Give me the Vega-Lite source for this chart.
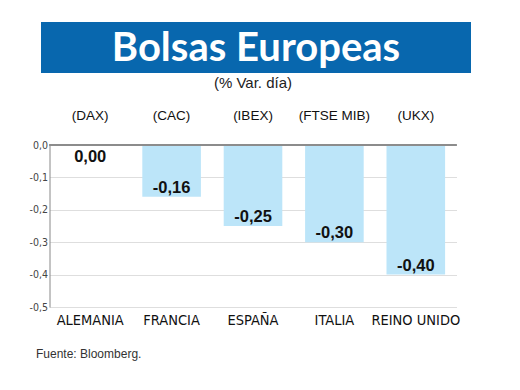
{
  "$schema": "https://vega.github.io/schema/vega-lite/v6.json",
  "background": "white",
  "padding": {"top": 22, "left": 29, "right": 5, "bottom": 5},
  "spacing": 3,
  "bounds": "full",
  "center": true,
  "data": {"values": [
    {"pais": "ALEMANIA", "indice": "(DAX)", "valor": 0.00},
    {"pais": "FRANCIA", "indice": "(CAC)", "valor": -0.16},
    {"pais": "ESPAÑA", "indice": "(IBEX)", "valor": -0.25},
    {"pais": "ITALIA", "indice": "(FTSE MIB)", "valor": -0.30},
    {"pais": "REINO UNIDO", "indice": "(UKX)", "valor": -0.40}
  ]},
  "vconcat": [
    {
      "width": 430,
      "height": 51,
      "view": {"fill": "#0867ae", "stroke": null},
      "data": {"values": [{"t": "Bolsas Europeas"}]},
      "mark": {"type": "text", "font": "Lato", "fontWeight": "bold", "fontSize": 40, "color": "white", "baseline": "middle", "align": "center", "dy": 1},
      "encoding": {"text": {"field": "t"}}
    },
    {
      "width": 407,
      "height": 162,
      "title": {"text": "(% Var. día)", "font": "Liberation Sans", "fontSize": 15, "fontWeight": "normal", "color": "#222", "offset": 17, "anchor": "middle"},
      "transform": [
        {"calculate": "datum.pais + '|' + datum.indice", "as": "clave"},
        {"calculate": "replace(replace(format(datum.valor, '.2f'), '.', ','), '\u2212', '-')", "as": "etiqueta"},
        {"calculate": "datum.valor == 0 ? -0.037 : datum.valor + 0.028", "as": "pos"}
      ],
      "resolve": {"axis": {"x": "independent", "y": "independent"}},
      "layer": [
        {
          "mark": {"type": "bar", "color": "#bce5f9"},
          "encoding": {
            "x": {
              "field": "clave", "type": "nominal", "sort": null,
              "scale": {"paddingInner": 0.28, "paddingOuter": 0.14},
              "axis": {
                "orient": "bottom", "labelExpr": "split(datum.value, '|')[0]",
                "labelAngle": 0, "labelFont": "DejaVu Sans Condensed", "labelFontSize": 14.5,
                "labelColor": "#111", "labelPadding": 6, "ticks": false, "domain": false,
                "title": "Fuente: Bloomberg.", "titleFont": "Liberation Sans", "titleFontSize": 12,
                "titleFontWeight": "normal", "titleColor": "#333", "titleAnchor": "start", "titleAlign": "left",
                "titleX": -14, "titleY": 50, "titleBaseline": "alphabetic"
              }
            },
            "y": {
              "field": "valor", "type": "quantitative",
              "scale": {"domain": [-0.5, 0], "nice": false, "zero": true},
              "axis": {
                "values": [0, -0.1, -0.2, -0.3, -0.4, -0.5],
                "labelOverlap": false,
                "labelExpr": "replace(replace(format(datum.value, '.1f'), '.', ','), '\u2212', '-')",
                "labelFont": "DejaVu Sans Condensed", "labelFontSize": 10.5,
                "labelColor": "#444", "labelPadding": 2, "ticks": false,
                "domainColor": "#888", "domainWidth": 1,
                "grid": true, "gridColor": "#dedede", "gridWidth": 1, "title": null
              }
            }
          }
        },
        {
          "mark": {"type": "text", "opacity": 0},
          "encoding": {
            "x": {
              "field": "clave", "type": "nominal", "sort": null,
              "axis": {
                "orient": "top", "labelExpr": "split(datum.value, '|')[1]",
                "labelAngle": 0, "labelFont": "Liberation Sans", "labelFontSize": 13.5,
                "labelColor": "#111", "labelPadding": 23, "ticks": false, "domain": false, "title": null
              }
            },
            "y": {
              "datum": 0, "type": "quantitative",
              "axis": {
                "orient": "right", "values": [0], "labelExpr": "'00'",
                "labelFont": "Liberation Sans", "labelFontSize": 5.4, "labelOpacity": 0,
                "labelPadding": 0, "ticks": false, "domain": false, "grid": false, "title": null
              }
            },
            "text": {"field": "indice"}
          }
        },
        {
          "mark": {"type": "rule", "color": "#8c8c8c", "strokeWidth": 1.5},
          "encoding": {"y": {"datum": 0, "type": "quantitative", "axis": null}}
        },
        {
          "mark": {"type": "text", "font": "Liberation Sans", "fontWeight": "bold", "fontSize": 16.5, "color": "#111", "baseline": "middle"},
          "encoding": {
            "x": {"field": "clave", "type": "nominal", "sort": null, "axis": null},
            "y": {"field": "pos", "type": "quantitative", "axis": null},
            "text": {"field": "etiqueta"}
          }
        }
      ]
    }
  ],
  "config": {
    "view": {"stroke": null},
    "axis": {"labelOverlap": false}
  }
}
